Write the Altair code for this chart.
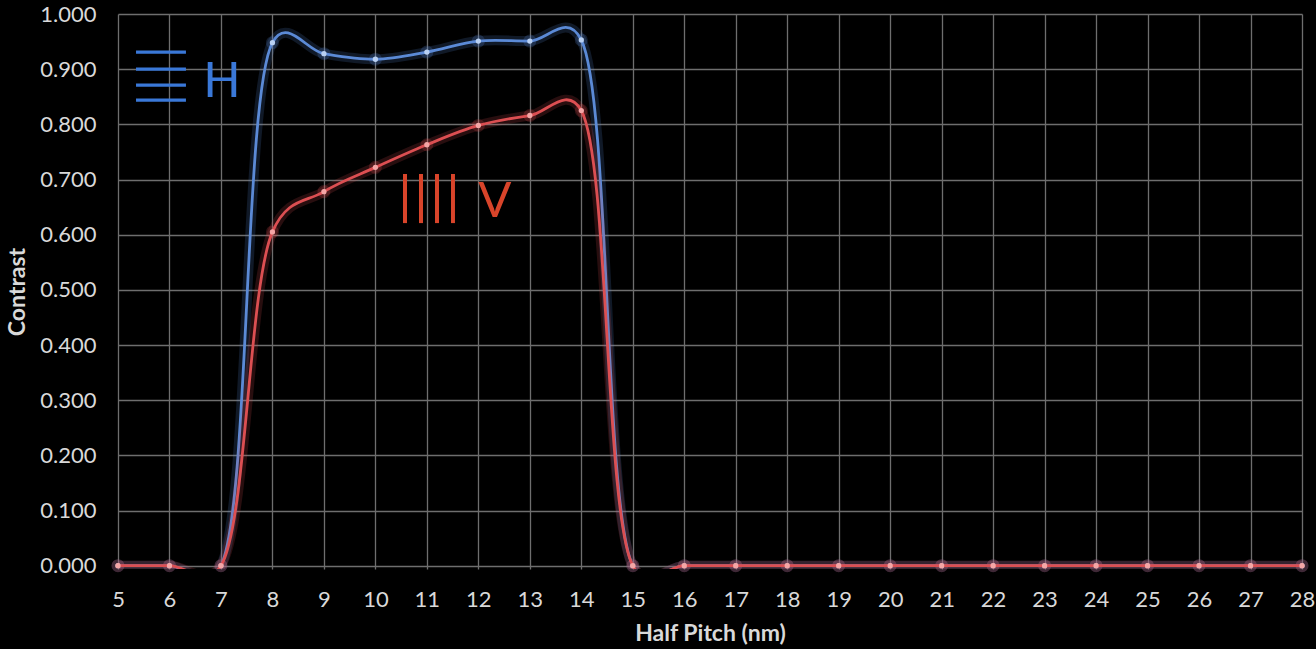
import altair as alt
import pandas as pd

# ---- data ----
half_pitch = list(range(5, 29))
contrast_h = [0.0, 0.0, 0.0, 0.948, 0.928, 0.918, 0.931, 0.951, 0.951, 0.953] + [0.0] * 14
contrast_v = [0.0, 0.0, 0.0, 0.605, 0.678, 0.722, 0.763, 0.798, 0.816, 0.825] + [0.0] * 14
y_ticks = [round(i * 0.1, 1) for i in range(11)]

# in-plot legend glyphs (data units)
h_glyph_y = [0.931, 0.900, 0.871, 0.844]
h_glyph_x = [5.35, 6.32]
v_glyph_x = [10.575, 10.886, 11.197, 11.507]
v_glyph_y = [0.621, 0.710]
label_text = ["H", "V"]
label_x = [7.02, 12.32]
label_y = [0.850, 0.632]

H_LINE = "#5b8ad6"
H_PT = "#b9d0f2"
V_LINE = "#dc4f52"
V_PT = "#f4a6a6"
H_TXT = "#3a78d8"
V_TXT = "#d8442a"
FONT = "Lato"

df_h = pd.DataFrame({"x": half_pitch, "y": contrast_h})
df_v = pd.DataFrame({"x": half_pitch, "y": contrast_v})

xs = alt.Scale(domain=[5, 28], nice=False, zero=False)
ys = alt.Scale(domain=[-0.006, 1.0], nice=False, zero=False)
x_enc = alt.X("x:Q", scale=xs, axis=alt.Axis(values=half_pitch, title="Half Pitch (nm)",
                                              labelPadding=20, titlePadding=12, labelFlush=False))
y_enc = alt.Y("y:Q", scale=ys, axis=alt.Axis(values=y_ticks, format=".3f", title="Contrast",
                                              labelPadding=22, titlePadding=10))


def series_layers(df, line_color, pt_color):
    base = alt.Chart(df).encode(x=x_enc, y=y_enc)
    glow = base.mark_line(color=line_color, strokeWidth=10, opacity=0.18,
                          interpolate="catmull-rom", tension=0.3, clip=True)
    line = base.mark_line(color=line_color, strokeWidth=2.8,
                          interpolate="catmull-rom", tension=0.3, clip=True)
    pglow = base.mark_point(filled=True, color=line_color, size=170, opacity=0.22)
    pts = base.mark_point(filled=True, color=pt_color, size=28, opacity=1)
    return [glow, line, pglow, pts]


layers = series_layers(df_h, H_LINE, H_PT) + series_layers(df_v, V_LINE, V_PT)

h_glyph = alt.Chart(pd.DataFrame({"x": [h_glyph_x[0]] * 4, "x2": [h_glyph_x[1]] * 4,
                                  "y": h_glyph_y})).mark_rule(
    color=H_TXT, strokeWidth=3.3).encode(x=x_enc, x2="x2:Q", y=y_enc)
v_glyph = alt.Chart(pd.DataFrame({"x": v_glyph_x, "y": [v_glyph_y[0]] * 4,
                                  "y2": [v_glyph_y[1]] * 4})).mark_rule(
    color=V_TXT, strokeWidth=4).encode(x=x_enc, y=y_enc, y2="y2:Q")
labels = alt.Chart(pd.DataFrame({"x": label_x, "y": label_y, "t": label_text})).mark_text(
    font=FONT, fontSize=49, align="center", baseline="alphabetic").encode(
    x=x_enc, y=y_enc, text="t:N",
    color=alt.Color("t:N", scale=alt.Scale(domain=label_text, range=[H_TXT, V_TXT]), legend=None))

chart = alt.layer(*layers, h_glyph, v_glyph, labels).properties(
    width=1184, height=555,
    background="black",
    padding={"left": 118, "top": 14, "right": 14, "bottom": 80},
    autosize=alt.AutoSizeParams(type="none"),
).configure_view(stroke=None).configure_axis(
    grid=True, gridColor="#6e6e6e", gridWidth=1.3, ticks=False, domain=False,
    labelColor="#d9d9d9", labelFont=FONT, labelFontSize=22,
    titleColor="#d9d9d9", titleFont=FONT, titleFontSize=23, titleFontWeight="bold",
)

chart.save("out.html", embed_options={"renderer": "svg", "actions": False})
